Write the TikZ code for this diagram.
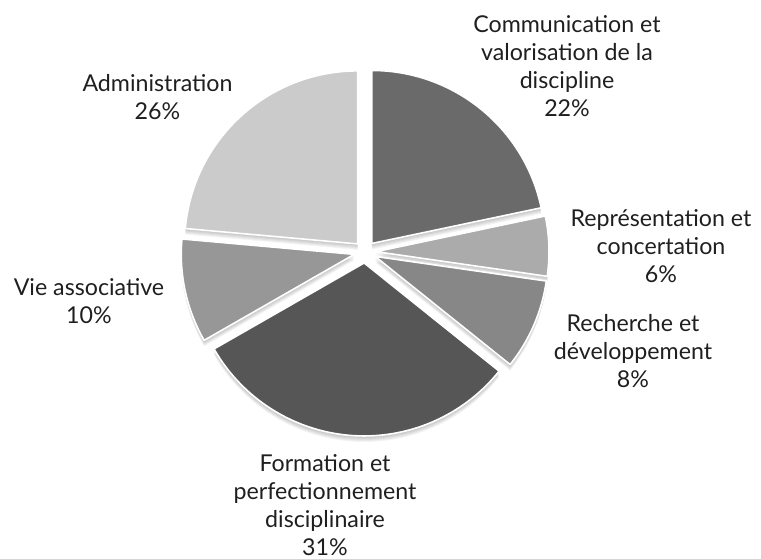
\documentclass[tikz,border=0pt]{standalone}
\usepackage{fontspec}
\setmainfont{Lato}
\usepackage{tikz}

\definecolor{commgray}{HTML}{6A6A6A}
\definecolor{repgray}{HTML}{ABABAB}
\definecolor{rechgray}{HTML}{878787}
\definecolor{formgray}{HTML}{565656}
\definecolor{viegray}{HTML}{979797}
\definecolor{admgray}{HTML}{CBCBCB}

\begin{document}
\begin{tikzpicture}[
            x = 1pt, y = 1pt, % one unit is one pixel
            slice/.style = {draw = white, line width = 1.6pt, line join = round},
            slice shadow/.style = {fill = black, opacity = 0.045},
            pie label/.style = {align = center, text = black!88,
                font = \fontsize{23.2}{28}\selectfont}
        ]

        \useasboundingbox (0,0) rectangle (761,-558);
        \coordinate (c) at (365,-252);

        % soft shadow under the pie
        \foreach \a/\b in {11.9/90, -8.2/11.9, -38.7/-8.2, -150.2/-38.7, 174.9/209.8, 90/174.9}{
            \pgfmathsetmacro{\mid}{(\a+\b)/2}
            \foreach \s in {1,2,...,6}{
                \fill[slice shadow] ([shift={(\mid:11)}]c) ++(0,-\s) -- ++(\a:173)
                    arc[start angle=\a, end angle=\b, radius=173] -- cycle;
            }
        }

        % slices: start angle / end angle / shade
        \foreach \a/\b/\shade in {11.9/90/commgray, -8.2/11.9/repgray, -38.7/-8.2/rechgray,
                -150.2/-38.7/formgray, 174.9/209.8/viegray, 90/174.9/admgray}{
            \pgfmathsetmacro{\mid}{(\a+\b)/2}
            \filldraw[slice, fill=\shade] ([shift={(\mid:11)}]c) -- ++(\a:173)
                arc[start angle=\a, end angle=\b, radius=173] -- cycle;
        }

        \node[pie label] (comm) at (567,-66) {Communication et\\valorisation de la\\discipline\\22\%};
        \node[pie label] (rep) at (661,-246.5) {Représentation et\\concertation\\6\%};
        \node[pie label] (rech) at (633,-351) {Recherche et\\développement\\8\%};
        \node[pie label] (form) at (325,-505) {Formation et\\perfectionnement\\disciplinaire\\31\%};
        \node[pie label] (vie) at (89,-301.5) {Vie associative\\10\%};
        \node[pie label] (adm) at (157.5,-97) {Administration\\26\%};

  \end{tikzpicture}
\end{document}
